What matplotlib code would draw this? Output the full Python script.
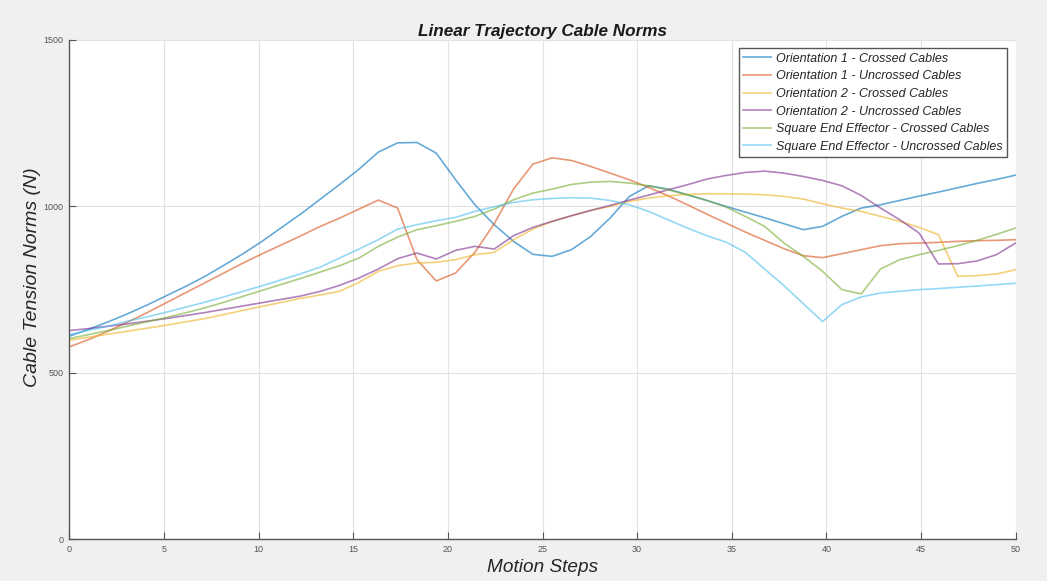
import matplotlib

matplotlib.use("Agg")
import matplotlib.pyplot as plt
import numpy as np

# 50 samples spread evenly over the 0-50 motion range
steps = np.linspace(0, 50, 50)

orient1_crossed = [
    610, 631, 653, 677, 703, 731, 759, 789, 823, 858,
    896, 937, 978, 1022, 1066, 1112, 1163, 1191, 1192, 1160,
    1080, 1005, 945, 895, 856, 850, 870, 910, 965, 1030,
    1062, 1052, 1035, 1018, 1000, 983, 966, 948, 930, 940,
    970, 995, 1005, 1018, 1031, 1043, 1056, 1069, 1081, 1094,
]
orient1_uncrossed = [
    578, 600, 625, 652, 680, 710, 740, 770, 800, 830,
    858, 885, 912, 940, 965, 992, 1019, 995, 840, 776,
    800, 862, 948, 1052, 1127, 1146, 1138, 1120, 1100, 1080,
    1057, 1032, 1005, 977, 950, 923, 898, 873, 852, 846,
    858, 870, 882, 888, 890, 892, 895, 897, 898, 900,
]
orient2_crossed = [
    598, 607, 616, 625, 634, 643, 653, 663, 675, 688,
    700, 712, 724, 734, 745, 772, 805, 822, 830, 832,
    840, 855, 862, 900, 932, 955, 972, 988, 1000, 1015,
    1025, 1032, 1036, 1038, 1038, 1037, 1035, 1030, 1022, 1008,
    995, 985, 970, 955, 937, 915, 790, 792, 797, 810,
]
orient2_uncrossed = [
    627, 633, 640, 647, 655, 663, 672, 681, 691, 701,
    711, 721, 731, 745, 763, 785, 812, 843, 860, 842,
    868, 880, 872, 912, 937, 955, 972, 988, 1003, 1019,
    1034, 1050, 1065, 1082, 1093, 1102, 1106, 1100, 1090, 1078,
    1062, 1033, 995, 960, 920, 827, 828, 836, 855, 890,
]
square_crossed = [
    603, 615, 627, 640, 653, 666, 680, 695, 712, 730,
    748, 766, 784, 803, 822, 845, 880, 908, 930, 942,
    955, 970, 992, 1020, 1040, 1052, 1066, 1073, 1075, 1070,
    1062, 1050, 1035, 1018, 998, 970, 940, 890, 850, 805,
    750, 737, 812, 840, 855, 868, 882, 898, 916, 935,
]
square_uncrossed = [
    615, 628, 640, 655, 668, 682, 697, 712, 728, 745,
    762, 780, 798, 818, 845, 872, 900, 932, 945, 957,
    967, 985, 999, 1012, 1020, 1024, 1026, 1025, 1018, 1005,
    985, 960, 935, 912, 893, 862, 812, 762, 708, 654,
    705, 728, 740, 745, 750, 753, 757, 761, 765, 769,
]

series = [
    ("Orientation 1 - Crossed Cables", orient1_crossed, "#0072BD"),
    ("Orientation 1 - Uncrossed Cables", orient1_uncrossed, "#D95319"),
    ("Orientation 2 - Crossed Cables", orient2_crossed, "#EDB120"),
    ("Orientation 2 - Uncrossed Cables", orient2_uncrossed, "#7E2F8E"),
    ("Square End Effector - Crossed Cables", square_crossed, "#77AC30"),
    ("Square End Effector - Uncrossed Cables", square_uncrossed, "#4DBEEE"),
]

plt.rcParams["font.family"] = ["Liberation Sans", "DejaVu Sans"]

fig = plt.figure(figsize=(10.47, 5.81), dpi=100, facecolor="#f0f0f0")
ax = fig.add_axes([0.0662, 0.0718, 0.9039, 0.8594])
ax.set_facecolor("white")

for label, values, color in series:
    ax.plot(steps, values, color=color, lw=1.2, alpha=0.6, label=label)

ax.set_xlim(0, 50)
ax.set_ylim(0, 1500)
ax.set_xticks(np.arange(0, 51, 5))
ax.set_yticks([0, 500, 1000, 1500])
ax.grid(True, color="#e2e2e2", lw=0.8)
ax.set_axisbelow(True)

for side in ("top", "right"):
    ax.spines[side].set_visible(False)
for side in ("left", "bottom"):
    ax.spines[side].set_color("#555555")
    ax.spines[side].set_linewidth(1.0)
ax.tick_params(direction="in", length=5, width=0.8, colors="#555555",
               labelsize=6.5, pad=4)

ax.set_title("Linear Trajectory Cable Norms", fontsize=12.3, fontweight="bold",
             fontstyle="italic", color="#1a1a1a", pad=3)
ax.set_xlabel("Motion Steps", fontsize=13.7, fontstyle="italic",
              color="#262626", labelpad=4)
ax.set_ylabel("Cable Tension Norms (N)", fontsize=14, fontstyle="italic",
              color="#262626")
ax.yaxis.set_label_coords(-0.0295, 0.525)

leg = ax.legend(loc="upper right", bbox_to_anchor=(0.9905, 0.9834),
                borderaxespad=0, fontsize=9, fancybox=False, framealpha=1,
                handlelength=2.2, handletextpad=0.4, labelspacing=0.45,
                borderpad=0.35)
leg.get_frame().set_edgecolor("#555555")
leg.get_frame().set_linewidth(1.0)
for text in leg.get_texts():
    text.set_fontstyle("italic")
    text.set_color("#262626")

fig.savefig("out.png", dpi=100, facecolor=fig.get_facecolor())
